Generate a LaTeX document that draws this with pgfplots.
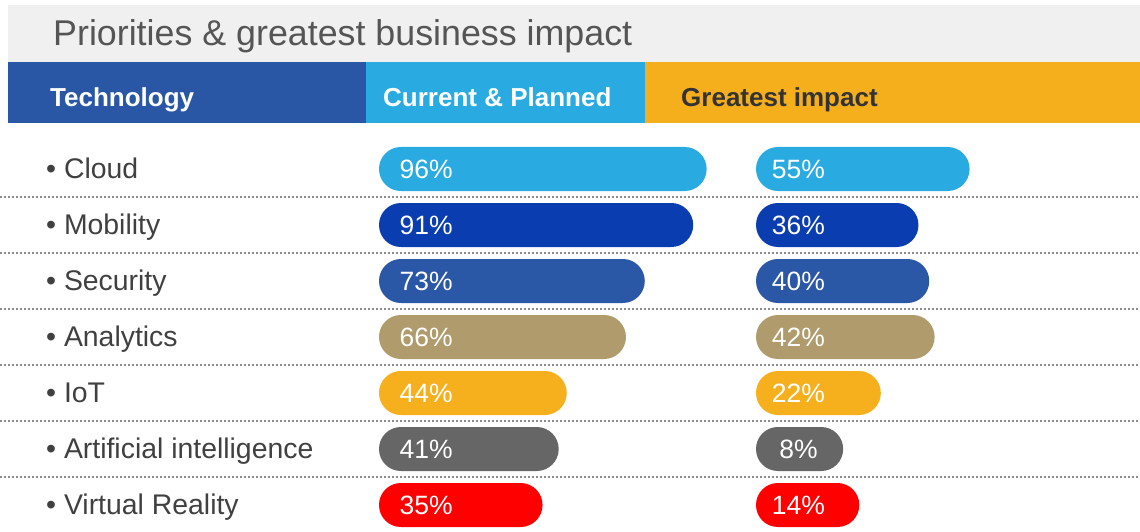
\documentclass[border=0pt]{standalone}
\usepackage{pgfplots}
\pgfplotsset{compat=1.18}
\usepackage{pgfplotstable}
\usepackage{fontspec}
\setmainfont{Liberation Sans}
\definecolor{cCloud}{HTML}{29ABE2}
\definecolor{cMob}{HTML}{0A3DB0}
\definecolor{cSec}{HTML}{2B57A7}
\definecolor{cAna}{HTML}{AF9B6B}
\definecolor{cIoT}{HTML}{F6B01E}
\definecolor{cAI}{HTML}{666666}
\definecolor{cVR}{HTML}{FF0000}
\definecolor{hTech}{HTML}{2957A5}
\definecolor{hCur}{HTML}{29ABE2}
\definecolor{hImp}{HTML}{F6AF1C}
\definecolor{titlebg}{HTML}{F0F0F0}
\definecolor{titletxt}{HTML}{555555}
\definecolor{lbl}{HTML}{404040}
\definecolor{sepc}{HTML}{8C8C8C}

\pgfplotstableread{
row cur imp
0 96 55
1 91 36
2 73 40
3 66 42
4 44 22
5 41 8
6 35 14
}\techdata

\pgfplotsset{
  pillaxis/.style={
    scale only axis, width=349.7pt, height=392pt,
    xmin=0, xmax=130, ymin=-0.5, ymax=6.5, y dir=reverse,
    clip=false, anchor=south west,
    axis line style={draw=none}, major tick length=0pt, xtick=\empty,
  },
  pill/.style 2 args={xbar, bar width=44pt, bar shift=0pt, draw=none,
    rounded corners=21.9pt, fill=#2,
    x filter/.expression={x+#1}},
  vlabels/.style={draw=none, mark=none, point meta=explicit symbolic,
    nodes near coords={\pgfplotspointmeta\%}, nodes near coords align={center},
    every node near coord/.style={anchor=center, text=white, inner sep=0pt,
      font=\fontsize{26.5}{30}\selectfont}},
}

\begin{document}
\begin{tikzpicture}
\fill[titlebg] (8pt,527pt) rectangle (1140pt,470pt);
\node[anchor=base west, inner sep=0pt, text=titletxt, font=\fontsize{35.8}{40}\selectfont] at (53pt,486pt) {Priorities \& greatest business impact};
\fill[hTech] (8pt,470pt) rectangle (366pt,409pt);
\fill[hCur] (366pt,470pt) rectangle (645pt,409pt);
\fill[hImp] (645pt,470pt) rectangle (1140pt,409pt);
\node[anchor=base west, inner sep=0pt, text=white, font=\bfseries\fontsize{26}{30}\selectfont] at (50pt,425.5pt) {Technology};
\node[anchor=base west, inner sep=0pt, text=white, font=\bfseries\fontsize{26}{30}\selectfont] at (383pt,425.5pt) {Current \& Planned};
\node[anchor=base west, inner sep=0pt, text=black!80, font=\bfseries\fontsize{26}{30}\selectfont] at (681pt,425.5pt) {Greatest impact};
\foreach \yy in {335,279,223,167,111,55}
  \draw[sepc, line width=1.2pt, dash pattern=on 1.5pt off 2.5pt] (0pt,\yy pt) -- (1140pt,\yy pt);

\begin{axis}[pillaxis, at={(379pt,-1pt)},
  ytick={0,1,2,3,4,5,6},
  yticklabels={{• Cloud},{• Mobility},{• Security},{• Analytics},{• IoT},{• Artificial intelligence},{• Virtual Reality}},
  yticklabel style={anchor=base west, inner sep=0pt, xshift=-333pt, yshift=-9.8pt,
    text=lbl, font=\fontsize{28.4}{32}\selectfont}]
\addplot[pill={25.8}{cCloud}, restrict y to domain=0:0] table[x=cur, y=row]{\techdata};
\addplot[pill={25.8}{cMob}, restrict y to domain=1:1] table[x=cur, y=row]{\techdata};
\addplot[pill={25.8}{cSec}, restrict y to domain=2:2] table[x=cur, y=row]{\techdata};
\addplot[pill={25.8}{cAna}, restrict y to domain=3:3] table[x=cur, y=row]{\techdata};
\addplot[pill={25.8}{cIoT}, restrict y to domain=4:4] table[x=cur, y=row]{\techdata};
\addplot[pill={25.8}{cAI}, restrict y to domain=5:5] table[x=cur, y=row]{\techdata};
\addplot[pill={25.8}{cVR}, restrict y to domain=6:6] table[x=cur, y=row]{\techdata};
\addplot[vlabels] table[x expr=17.5, y=row, meta=cur]{\techdata};
\end{axis}

\begin{axis}[pillaxis, at={(756pt,-1pt)}, ytick=\empty]
\addplot[pill={24.4}{cCloud}, restrict y to domain=0:0] table[x=imp, y=row]{\techdata};
\addplot[pill={24.4}{cMob}, restrict y to domain=1:1] table[x=imp, y=row]{\techdata};
\addplot[pill={24.4}{cSec}, restrict y to domain=2:2] table[x=imp, y=row]{\techdata};
\addplot[pill={24.4}{cAna}, restrict y to domain=3:3] table[x=imp, y=row]{\techdata};
\addplot[pill={24.4}{cIoT}, restrict y to domain=4:4] table[x=imp, y=row]{\techdata};
\addplot[pill={24.4}{cAI}, restrict y to domain=5:5] table[x=imp, y=row]{\techdata};
\addplot[pill={24.4}{cVR}, restrict y to domain=6:6] table[x=imp, y=row]{\techdata};
\addplot[vlabels] table[x expr=15.8, y=row, meta=imp]{\techdata};
\end{axis}
\pgfresetboundingbox
\path[use as bounding box] (0pt,0pt) rectangle (1140pt,532pt);
\end{tikzpicture}
\end{document}
